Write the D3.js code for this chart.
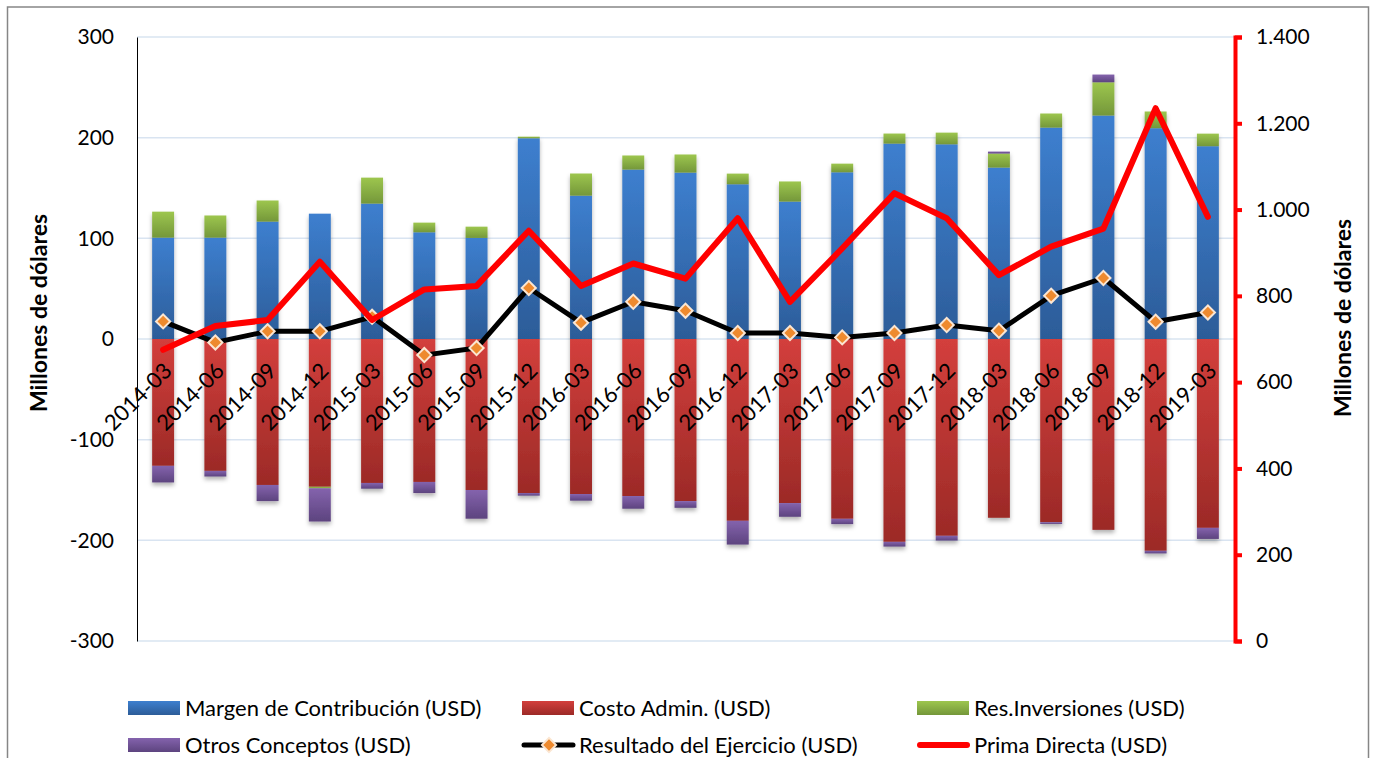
<!DOCTYPE html>
<html>
<head>
<meta charset="utf-8">
<script src="https://cdn.jsdelivr.net/npm/d3@7"></script>
<style>
  body { margin: 0; background: #fff; }
  svg { display: block; font-family: Lato, "Open Sans", sans-serif; }
</style>
</head>
<body>
<div id="chart"></div>
<script>
var periods = ['2014-03', '2014-06', '2014-09', '2014-12', '2015-03', '2015-06', '2015-09', '2015-12',
    '2016-03', '2016-06', '2016-09', '2016-12', '2017-03', '2017-06', '2017-09', '2017-12',
    '2018-03', '2018-06', '2018-09', '2018-12', '2019-03'];

var margen = [100.7, 100.7, 116.6, 124.5, 134.5, 106, 100.4, 199.4, 142.4, 168.3, 165.3, 153.7, 136.5, 165.6, 194.1, 193.4, 170.3, 210, 222, 209.4, 191.5];
var costo = [-126, -131, -145, -146.8, -143, -142, -150, -153, -154, -156, -161, -180.6, -163, -178.6, -201.5, -195.5, -177.6, -182, -189.6, -210.4, -187.6];
var resInv = [25.8, 22, 21, -1.5, 25.8, 9.6, 11.2, 1.6, 22, 14, 18, 10.6, 20, 8.6, 10, 11.6, 13.9, 14, 33, 16.6, 12.5];
var otros = [-16.5, -5.6, -16, -33, -5.7, -11, -28.5, -2.6, -6.6, -12.6, -6.7, -23.6, -13.6, -5.3, -4.7, -4.7, 2, -1.7, 7.7, -2.6, -11];
var resultado = [17.5, -3.4, 7.6, 7.6, 22, -16, -9, 50.7, 16.2, 37, 28.1, 6, 6, 1.6, 6, 13.9, 8.2, 43, 60.6, 17.2, 26.4];
var prima = [675, 730, 744, 879, 744, 815, 823, 951, 823, 875, 840, 980, 786, 910, 1038, 980, 848, 914, 956, 1235, 983];

var leftTicks = [-300, -200, -100, 0, 100, 200, 300];
var rightTicks = [0, 200, 400, 600, 800, 1000, 1200, 1400];

var seriesNames = ['Margen de Contribución (USD)', 'Costo Admin. (USD)', 'Res.Inversiones (USD)', 'Otros Conceptos (USD)'];
var lineNames = ['Resultado del Ejercicio (USD)', 'Prima Directa (USD)'];

var keys = ['margen', 'costo', 'resInv', 'otros'];
var gradColors = {
    margen: ['#3d7fcf', '#2c5c98'],
    costo: ['#d33f3c', '#9c2a27'],
    resInv: ['#9dc64e', '#74973a'],
    otros: ['#8463ad', '#5d447f']
};

var width = 1376, height = 758;
var plot = {left: 137, right: 1234, top: 37, bottom: 641};
var font = "Lato, 'Open Sans', sans-serif";

var table = periods.map(function (p, i) {
    return {period: p, margen: margen[i], costo: costo[i], resInv: resInv[i], otros: otros[i]};
});

var x = d3.scaleBand()
    .domain(periods)
    .range([plot.left, plot.right])
    .paddingInner(0.58)
    .paddingOuter(0.29);

var yL = d3.scaleLinear().domain([-300, 300]).range([plot.bottom, plot.top]);
var yR = d3.scaleLinear().domain([0, 1400]).range([plot.bottom, plot.top]);

var svg = d3.select("#chart").append("svg").attr("width", width).attr("height", height);
var defs = svg.append("defs");

keys.forEach(function (k) {
    var g = defs.append("linearGradient").attr("id", "g-" + k)
        .attr("x1", 0).attr("y1", 0).attr("x2", 0).attr("y2", 1);
    g.append("stop").attr("offset", "0%").attr("stop-color", gradColors[k][0]);
    g.append("stop").attr("offset", "100%").attr("stop-color", gradColors[k][1]);
});

var shadow = defs.append("filter").attr("id", "shadow")
    .attr("x", "-20%").attr("y", "-20%").attr("width", "140%").attr("height", "140%");
shadow.append("feDropShadow").attr("dx", 0).attr("dy", 3).attr("stdDeviation", 2)
    .attr("flood-color", "#000").attr("flood-opacity", 0.3);

// frame
svg.append("rect").attr("x", 7.5).attr("y", 7).attr("width", 1361).attr("height", 780)
    .attr("fill", "none").attr("stroke", "#868686").attr("stroke-width", 1.5);

// gridlines
svg.append("g").selectAll("line").data(leftTicks).join("line")
    .attr("x1", plot.left).attr("x2", plot.right)
    .attr("y1", function (d) { return yL(d); })
    .attr("y2", function (d) { return yL(d); })
    .attr("stroke", "#d9e4f1").attr("stroke-width", 1.5);

// stacked bars
var stacked = d3.stack().keys(keys).offset(d3.stackOffsetDiverging)(table);

svg.append("g").attr("filter", "url(#shadow)")
    .selectAll("g").data(stacked).join("g")
    .attr("fill", function (d) { return "url(#g-" + d.key + ")"; })
    .selectAll("rect").data(function (d) { return d; }).join("rect")
    .attr("x", function (d) { return x(d.data.period); })
    .attr("width", x.bandwidth())
    .attr("y", function (d) { return yL(Math.max(d[0], d[1])); })
    .attr("height", function (d) { return Math.abs(yL(d[0]) - yL(d[1])); });

// left axis
var yAxisL = d3.axisLeft(yL).tickValues(leftTicks).tickSize(0).tickPadding(23)
    .tickFormat(function (d) { return String(d); });
var gL = svg.append("g").attr("transform", "translate(" + plot.left + ",0)").call(yAxisL);
gL.select(".domain").attr("stroke", "#000").attr("stroke-width", 1);
gL.selectAll("text").attr("font-size", 21).attr("font-family", font).attr("fill", "#000");

// right axis
var yAxisR = d3.axisRight(yR).tickValues(rightTicks).tickSize(7).tickPadding(14)
    .tickFormat(function (d) { return d3.format(",")(d).replace(/,/g, "."); });
var gR = svg.append("g").attr("transform", "translate(" + (plot.right + 1) + ",0)").call(yAxisR);
gR.select(".domain").attr("stroke", "#ff0000").attr("stroke-width", 4);
gR.selectAll(".tick line").attr("stroke", "#ff0000").attr("stroke-width", 4);
gR.selectAll("text").attr("font-size", 21).attr("font-family", font).attr("fill", "#000");

// category labels
svg.append("g").selectAll("text").data(periods).join("text")
    .attr("transform", function (d) {
        return "translate(" + (x(d) + x.bandwidth() / 2 - 1) + ",361) rotate(-45)";
    })
    .attr("text-anchor", "end")
    .attr("dy", "0.72em")
    .attr("font-size", 22)
    .attr("fill", "#000")
    .text(function (d) { return d; });

// axis titles
svg.append("text")
    .attr("transform", "translate(47,313) rotate(-90)")
    .attr("text-anchor", "middle").attr("font-weight", "bold").attr("font-size", 23)
    .text("Millones de dólares");
svg.append("text")
    .attr("transform", "translate(1351,318) rotate(-90)")
    .attr("text-anchor", "middle").attr("font-weight", "bold").attr("font-size", 23)
    .text("Millones de dólares");

var cx = function (d, i) { return x(periods[i]) + x.bandwidth() / 2; };

// resultado line
var lineL = d3.line().x(cx).y(function (d) { return yL(d); });
svg.append("path").attr("d", lineL(resultado))
    .attr("fill", "none").attr("stroke", "#000").attr("stroke-width", 5)
    .attr("stroke-linejoin", "round");

function diamond(sel) {
    sel.append("rect").attr("x", -5).attr("y", -5).attr("width", 10).attr("height", 10)
        .attr("transform", "rotate(45)")
        .attr("fill", "#ee8a2e").attr("stroke", "#fbe6d2").attr("stroke-width", 2);
}

svg.append("g").selectAll("g").data(resultado).join("g")
    .attr("transform", function (d, i) { return "translate(" + cx(d, i) + "," + yL(d) + ")"; })
    .call(diamond);

// prima line
var lineR = d3.line().x(cx).y(function (d) { return yR(d); });
svg.append("path").attr("d", lineR(prima))
    .attr("fill", "none").attr("stroke", "#ff0000").attr("stroke-width", 6)
    .attr("stroke-linejoin", "round").attr("stroke-linecap", "round");

// legend
var legendItems = [
    {name: seriesNames[0], type: "bar", key: "margen", col: 0, row: 0},
    {name: seriesNames[1], type: "bar", key: "costo", col: 1, row: 0},
    {name: seriesNames[2], type: "bar", key: "resInv", col: 2, row: 0},
    {name: seriesNames[3], type: "bar", key: "otros", col: 0, row: 1},
    {name: lineNames[0], type: "marker", col: 1, row: 1},
    {name: lineNames[1], type: "line", col: 2, row: 1}
];
var colX = [128, 522, 917];
var rowY = [708, 745];

var lg = svg.append("g").selectAll("g").data(legendItems).join("g")
    .attr("transform", function (d) { return "translate(" + colX[d.col] + "," + rowY[d.row] + ")"; });

lg.filter(function (d) { return d.type === "bar"; }).append("rect")
    .attr("x", 0).attr("y", -7).attr("width", 52).attr("height", 14)
    .attr("fill", function (d) { return "url(#g-" + d.key + ")"; });

lg.filter(function (d) { return d.type === "marker"; }).each(function () {
    var s = d3.select(this);
    s.append("line").attr("x1", 2).attr("x2", 51).attr("y1", 0).attr("y2", 0)
        .attr("stroke", "#000").attr("stroke-width", 5).attr("stroke-linecap", "round");
    s.append("g").attr("transform", "translate(27,0)").call(diamond);
});

lg.filter(function (d) { return d.type === "line"; }).append("line")
    .attr("x1", 3).attr("x2", 50).attr("y1", 0).attr("y2", 0)
    .attr("stroke", "#ff0000").attr("stroke-width", 6).attr("stroke-linecap", "round");

lg.append("text").attr("x", 57).attr("y", 8).attr("font-size", 22).attr("fill", "#000")
    .text(function (d) { return d.name; });
</script>
</body>
</html>
